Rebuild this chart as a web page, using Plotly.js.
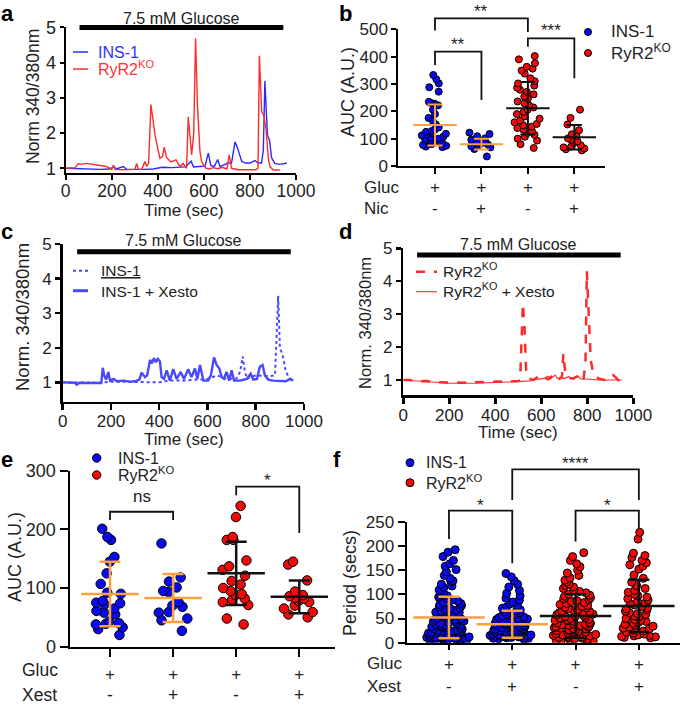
<!DOCTYPE html>
<html><head><meta charset="utf-8">
<script src="https://cdn.plot.ly/plotly-3.0.1.min.js"></script>
<style>html,body{margin:0;padding:0;background:#fff}#chart{width:685px;height:705px}</style>
</head><body><div id="chart"></div><script>
// ---------------- DATA ----------------
// Panel a: representative traces (time in sec, normalized 340/380)
const aTimeINS = [0, 50, 100, 150, 190, 210, 220, 250, 265, 300, 340, 380, 420, 460, 490, 520, 545, 555, 580, 605, 619, 630, 645, 660, 670, 690, 705, 720, 735, 745, 764, 780, 800, 822, 835, 850, 858, 865, 876, 885, 894, 908, 920, 940, 960];
const aValINS  = [1.0, 0.99, 0.97, 0.97, 0.98, 1.04, 0.98, 1.05, 0.97, 0.98, 0.97, 0.98, 1.03, 1.02, 1.04, 1.04, 1.2, 1.04, 1.05, 1.06, 1.43, 1.08, 1.05, 1.25, 1.05, 1.1, 1.15, 1.15, 1.75, 1.6, 1.2, 1.15, 1.15, 1.22, 1.15, 1.15, 1.5, 3.48, 1.94, 1.8, 1.3, 1.14, 1.12, 1.12, 1.15];
const aTimeKO = [0, 20, 40, 55, 70, 90, 110, 130, 150, 170, 190, 200, 207, 215, 240, 270, 300, 308, 316, 330, 344, 352, 360, 370, 388, 409, 420, 428, 438, 457, 479, 496, 510, 525, 532, 547, 556, 564, 572, 583, 590, 598, 610, 625, 640, 660, 680, 700, 710, 720, 735, 750, 770, 790, 810, 825, 835, 841, 851, 860, 870, 880, 887, 900, 915, 930];
const aValKO  = [1.0, 1.0, 1.02, 1.13, 1.12, 1.14, 1.12, 1.1, 1.1, 1.06, 1.01, 0.97, 1.09, 0.97, 0.96, 0.96, 0.97, 1.14, 0.97, 0.97, 1.19, 1.05, 1.15, 2.81, 1.94, 1.28, 1.33, 1.6, 1.3, 1.18, 1.24, 1.05, 1.14, 1.0, 2.46, 1.38, 2.0, 4.69, 2.8, 1.47, 1.2, 1.1, 1.0, 0.98, 1.02, 0.99, 1.03, 0.98, 1.38, 1.0, 0.97, 0.96, 0.96, 0.96, 0.95, 0.96, 1.0, 4.19, 2.6, 2.5, 2.1, 1.28, 1.05, 0.96, 0.95, 0.95];

// Panel b: AUC (A.U.) per cell
const bCategories = ['INS-1 Gluc', 'INS-1 Gluc+Nic', 'RyR2KO Gluc', 'RyR2KO Gluc+Nic'];
const bINS_Gluc = [333, 317, 302, 288, 272, 235, 231, 228, 222, 206, 190, 176, 165, 152, 141, 133, 128, 125, 121, 118, 115, 112, 108, 104, 100, 97, 94, 90, 87, 84, 80, 77, 74, 71, 69];
const bINS_Nic  = [122, 117, 109, 101, 96, 90, 86, 82, 79, 76, 72, 68, 62, 35];
const bKO_Gluc  = [402, 390, 376, 363, 356, 349, 338, 321, 310, 302, 294, 286, 279, 271, 262, 254, 246, 236, 229, 221, 214, 206, 198, 190, 181, 173, 166, 160, 154, 149, 144, 139, 133, 127, 121, 114, 107, 100, 93, 80, 66];
const bKO_Nic   = [206, 176, 152, 131, 116, 110, 101, 96, 90, 84, 76, 71, 68, 64, 61, 57];
const bMean = [150, 80, 211, 105];
const bSD   = [75, 20, 96, 45];
const bGluc = ['+', '+', '+', '+'];
const bNic  = ['-', '+', '-', '+'];

// Panel c: INS-1 control vs + Xesto
const cTimeCtrl = [0, 60, 150, 200, 300, 360, 400, 440, 500, 560, 600, 640, 680, 720, 735, 746, 755, 765, 776, 800, 830, 860, 880, 893, 900, 911, 925, 942, 956];
const cValCtrl  = [1.0, 1.0, 0.99, 1.02, 1.0, 1.0, 1.0, 1.05, 1.05, 1.08, 1.1, 1.2, 1.1, 1.1, 1.3, 1.75, 1.3, 1.1, 1.15, 1.2, 1.18, 1.18, 1.2, 3.5, 2.0, 1.8, 1.3, 1.1, 1.05];
const cTimeX = [0, 30, 50, 58, 70, 100, 130, 160, 166, 172, 180, 189, 196, 210, 225, 250, 280, 300, 318, 327, 341, 350, 362, 370, 378, 386, 394, 403, 410, 420, 431, 444, 458, 472, 489, 503, 520, 534, 548, 558, 569, 583, 603, 614, 627, 638, 649, 659, 668, 679, 690, 700, 710, 735, 763, 779, 790, 805, 817, 828, 838, 852, 872, 900, 925, 942, 955];
const cValX  = [1.0, 1.0, 0.99, 0.93, 0.99, 0.98, 0.97, 0.98, 1.42, 1.2, 1.08, 1.3, 1.05, 1.1, 1.03, 1.05, 1.02, 1.03, 1.08, 1.28, 1.15, 1.2, 1.65, 1.55, 1.7, 1.58, 1.68, 1.6, 1.15, 1.1, 1.35, 1.05, 1.38, 1.1, 1.3, 1.1, 1.38, 1.15, 1.4, 1.1, 1.5, 1.05, 1.05, 1.2, 1.72, 1.5, 1.4, 1.15, 1.1, 1.3, 1.05, 1.35, 1.05, 1.05, 1.1, 1.25, 1.08, 1.1, 1.45, 1.5, 1.2, 1.08, 1.05, 1.04, 1.03, 1.1, 1.05];

// Panel d: RyR2KO control vs + Xesto
const dTimeCtrl = [0, 30, 60, 100, 150, 200, 250, 300, 350, 400, 450, 500, 508, 515, 520, 527, 534, 544, 565, 580, 595, 609, 630, 652, 674, 690, 696, 703, 717, 739, 768, 783, 792, 798, 806, 815, 826, 848, 884, 913, 935, 949];
const dValCtrl  = [1.0, 1.0, 0.96, 0.97, 0.93, 0.92, 0.92, 0.93, 0.94, 0.95, 0.96, 0.97, 1.0, 2.5, 3.32, 2.6, 1.3, 1.05, 1.0, 1.05, 1.0, 1.1, 1.02, 1.15, 1.0, 1.1, 1.8, 1.3, 1.05, 1.05, 1.15, 1.0, 1.5, 4.3, 3.0, 1.6, 1.2, 1.05, 0.98, 1.15, 1.0, 1.15];
const dTimeX = [0, 50, 100, 150, 200, 300, 400, 500, 560, 580, 590, 610, 630, 640, 660, 670, 700, 720, 740, 760, 770, 800, 850, 900, 950];
const dValX  = [1.0, 0.98, 0.95, 0.92, 0.9, 0.9, 0.92, 0.95, 0.98, 1.1, 1.02, 1.05, 1.12, 1.03, 1.15, 1.05, 1.05, 1.1, 1.02, 1.12, 1.03, 1.03, 1.0, 0.99, 1.0];

// Panel e: AUC (A.U.) with Xestospongin
const eINS_Gluc = [201, 187, 182, 153, 145, 125, 107, 92, 90, 78, 75, 74, 72, 65, 61, 58, 55, 43, 40, 39, 38, 33, 30, 20];
const eINS_Xest = [176, 118, 111, 101, 95, 93, 76, 70, 68, 59, 58, 48, 45, 27];
const eKO_Gluc  = [240, 221, 187, 182, 182, 147, 137, 131, 121, 112, 106, 100, 95, 90, 88, 82, 80, 76, 71, 48, 38];
const eKO_Xest  = [145, 140, 113, 94, 88, 86, 83, 82, 78, 76, 70, 65, 59, 55, 50];
const eMean = [90, 83, 125, 85];
const eSD   = [55, 41, 54, 28];
const eGluc = ['+', '+', '+', '+'];
const eXest = ['-', '+', '-', '+'];

// Panel f: Period (secs)
const fINS_Gluc = [192, 187, 178, 170, 163, 158, 151, 146, 139, 133, 128, 126, 121, 117, 114, 109, 106, 103, 99, 97, 94, 91, 88, 86, 83, 81, 79, 77, 74, 72, 71, 69, 67, 65, 63, 62, 60, 58, 57, 55, 54, 52, 51, 49, 48, 47, 45, 44, 43, 41, 40, 39, 38, 36, 35, 34, 33, 32, 31, 30, 29, 28, 27, 26, 25, 24, 24, 23, 22, 21, 20, 20, 19, 18, 18, 17, 16, 16, 15, 14, 14, 13, 13, 12, 12, 11, 11, 10, 10, 9, 9, 8, 8, 7, 7, 6, 6, 5, 5, 4];
const fINS_Xest = [143, 136, 128, 121, 115, 108, 102, 97, 92, 88, 84, 80, 77, 74, 71, 68, 66, 64, 62, 60, 58, 56, 55, 53, 52, 50, 49, 48, 47, 46, 45, 44, 43, 42, 41, 40, 39, 38, 37, 36, 35, 34, 33, 32, 31, 30, 30, 29, 28, 27, 26, 25, 25, 24, 23, 22, 22, 21, 20, 20, 19, 18, 18, 17, 16, 16, 15, 15, 14, 13, 13, 12, 12, 11, 10, 10, 9, 9, 8, 7];
const fKO_Gluc  = [186, 178, 170, 163, 157, 150, 144, 139, 134, 129, 125, 121, 118, 115, 112, 109, 106, 103, 100, 98, 96, 93, 91, 89, 87, 85, 83, 81, 79, 77, 75, 73, 72, 70, 68, 67, 65, 64, 62, 61, 59, 58, 56, 55, 54, 52, 51, 50, 48, 47, 46, 45, 44, 42, 41, 40, 39, 38, 37, 36, 35, 34, 33, 32, 31, 30, 29, 28, 27, 26, 25, 24, 23, 22, 21, 20, 19, 18, 17, 16, 15, 14, 13, 12, 11, 10, 9, 8, 7, 6, 5, 4, 3, 2];
const fKO_Xest  = [228, 214, 185, 180, 176, 170, 165, 161, 158, 152, 140, 133, 125, 118, 112, 108, 104, 100, 97, 94, 91, 88, 85, 82, 80, 78, 75, 72, 70, 68, 65, 62, 60, 58, 55, 53, 50, 48, 46, 44, 42, 40, 38, 36, 34, 32, 30, 28, 26, 24, 22, 20, 18, 16, 15, 14, 13, 12, 11, 10];
const fMean = [52, 38, 55, 76];
const fSD   = [43, 28, 45, 54];
const fGluc = ['+', '+', '+', '+'];
const fXest = ['-', '+', '-', '+'];

const axTicks1000 = [0, 200, 400, 600, 800, 1000];
const glucoseWindow = [60, 945];

// ---------------- STYLE / GEOMETRY ----------------
const W = 685, H = 705;
const FONT = 'Arial, "Liberation Sans", Helvetica, sans-serif';
const TXT = '#222';
const BLUE = '#0a0af0', RED = '#f00a0a', ORANGE = '#f9a03f';
const geo = {
  a: {x: [65.7, 296], y: [173, 27.3], xr: [0, 1000], yr: [0.867, 5]},
  b: {x: [398.3, 605], y: [166, 29.3], xr: [-0.79, 3.66], yr: [0, 500]},
  c: {x: [62.7, 304], y: [401.7, 244], xr: [0, 1000], yr: [0.44, 5]},
  d: {x: [403.3, 633.3], y: [395, 248.3], xr: [0, 1000], yr: [0.545, 5]},
  e: {x: [70, 335], y: [646.7, 470.7], xr: [-0.634, 3.566], yr: [0, 300]},
  f: {x: [407, 680], y: [642.7, 521.7], xr: [-0.663, 3.65], yr: [0, 250]}
};
const fx = p => p / W, fy = p => 1 - p / H;
function PX(p, v) { const G = geo[p]; return fx(G.x[0] + (v - G.xr[0]) / (G.xr[1] - G.xr[0]) * (G.x[1] - G.x[0])); }
function PY(p, v) { const G = geo[p]; return fy(G.y[0] + (v - G.yr[0]) / (G.yr[1] - G.yr[0]) * (G.y[1] - G.y[0])); }

const annotations = [], shapes = [];
function note(xp, yp, text, size, o) {
  o = o || {};
  annotations.push({xref: 'paper', yref: 'paper', x: xp, y: yp, text: text, showarrow: false,
    xanchor: o.xanchor || 'center', yanchor: o.yanchor || 'middle', textangle: o.angle || 0, borderpad: 0,
    font: {family: FONT, size: size, color: o.color || TXT}});
}
function notePx(x, y, text, size, o) { note(fx(x), fy(y), text, size, o); }

const layout = {width: W, height: H, margin: {l: 0, r: 0, t: 0, b: 0}, paper_bgcolor: '#fff', plot_bgcolor: 'rgba(0,0,0,0)',
  showlegend: false, hovermode: false, annotations: annotations, shapes: shapes};
const AX = {showline: true, linecolor: '#000', linewidth: 2, ticks: 'outside', tickcolor: '#000', tickwidth: 2, ticklen: 5,
  showgrid: false, zeroline: false, fixedrange: true, tickmode: 'array'};
function mkAxes(p, idx, xo, yo) {
  const G = geo[p], s = idx === 1 ? '' : String(idx);
  layout['xaxis' + s] = Object.assign({}, AX, {domain: [fx(G.x[0]), fx(G.x[1])], range: G.xr, anchor: 'y' + s}, xo);
  layout['yaxis' + s] = Object.assign({}, AX, {domain: [fy(G.y[0]), fy(G.y[1])], range: G.yr, anchor: 'x' + s}, yo);
}
const tf = s => ({family: FONT, size: s, color: TXT});
const catVals = [0, 1, 2, 3];
mkAxes('a', 1, {tickvals: axTicks1000, tickfont: tf(17.5), ticklabelstandoff: -4}, {tickvals: [1, 2, 3, 4, 5], ticklen: 4, tickfont: tf(18)});
mkAxes('b', 2, {tickvals: catVals, ticktext: bGluc, tickfont: tf(17), ticklen: 6, ticklabelstandoff: -1}, {tickvals: [0, 100, 200, 300, 400, 500], tickfont: tf(17)});
mkAxes('c', 3, {tickvals: axTicks1000, tickfont: tf(17), linewidth: 2.5, tickwidth: 2.5, ticklen: 6, ticklabelstandoff: -4}, {tickvals: [1, 2, 3, 4, 5], tickfont: tf(17), linewidth: 2.5, tickwidth: 2.5, ticklen: 5});
mkAxes('d', 4, {tickvals: axTicks1000, tickfont: tf(17), linewidth: 2.5, tickwidth: 2.5, ticklen: 6, ticklabelstandoff: -3}, {tickvals: [1, 2, 3, 4, 5], tickfont: tf(17), linewidth: 2.5, tickwidth: 2.5, ticklen: 5});
mkAxes('e', 5, {tickvals: catVals, ticktext: eGluc, tickfont: tf(17), ticklen: 8, linewidth: 2.5, ticklabelstandoff: 2}, {tickvals: [0, 100, 200, 300], ticklen: 8, tickfont: tf(18), linewidth: 2.5});
mkAxes('f', 6, {tickvals: catVals, ticktext: fGluc, tickfont: tf(17), ticklen: 5, linewidth: 2.5, ticklabelstandoff: -1}, {tickvals: [0, 50, 100, 150, 200, 250], ticklen: 7, tickfont: tf(17), linewidth: 2.5});

// ---------------- TRACES ----------------
const traces = [];
function line(x, y, ax, color, width, dash) {
  traces.push({type: 'scatter', mode: 'lines', x: x, y: y, xaxis: 'x' + ax, yaxis: 'y' + ax,
    line: {color: color, width: width, dash: dash || 'solid'}, hoverinfo: 'skip'});
}
line(aTimeINS, aValINS, '', '#2a2aff', 1.4);
line(aTimeKO, aValKO, '', '#ff2a2a', 1.4);
line(cTimeCtrl, cValCtrl, '3', '#4848ff', 2, 'dot');
line(cTimeX, cValX, '3', '#4848ff', 2.4);
line(dTimeX, dValX, '4', '#ff2a2a', 1.1);
line(dTimeCtrl, dValCtrl, '4', '#ff2a2a', 2.5, 'dash');

function strip(vals, pos, ax, color, size, width) {
  traces.push({type: 'box', y: vals, x0: pos, xaxis: 'x' + ax, yaxis: 'y' + ax, boxpoints: 'all', jitter: 1, pointpos: 0,
    width: width, fillcolor: 'rgba(0,0,0,0)', line: {width: 0, color: 'rgba(0,0,0,0)'},
    marker: {color: color, size: size, opacity: 1, line: {color: '#000', width: 1}}, hoverinfo: 'skip'});
}
function meanSD(means, sds, ax, colors, len, cap, th) {
  means.forEach((m, i) => {
    traces.push({type: 'scatter', mode: 'markers', x: [i], y: [m], xaxis: 'x' + ax, yaxis: 'y' + ax, cliponaxis: false,
      marker: {symbol: 'line-ew', size: len, color: colors[i], line: {color: colors[i], width: th}},
      error_y: {type: 'data', array: [sds[i]], visible: true, color: colors[i], thickness: th, width: cap}, hoverinfo: 'skip'});
  });
}
const meanColors = [ORANGE, ORANGE, '#111', '#111'];
[bINS_Gluc, bINS_Nic, bKO_Gluc, bKO_Nic].forEach((v, i) => strip(v, i, '2', i < 2 ? BLUE : RED, 7, 0.62));
meanSD(bMean, bSD, '2', meanColors, 31, 7.5, 2);
[eINS_Gluc, eINS_Xest, eKO_Gluc, eKO_Xest].forEach((v, i) => strip(v, i, '5', i < 2 ? BLUE : RED, 9.5, 0.6));
meanSD(eMean, eSD, '5', meanColors, 41, 10.5, 2.5);
[fINS_Gluc, fINS_Xest, fKO_Gluc, fKO_Xest].forEach((v, i) => strip(v, i, '6', i < 2 ? BLUE : RED, 8, 0.72));
meanSD(fMean, fSD, '6', meanColors, 51, 10.5, 2.5);

// ---------------- ANNOTATIONS / DECORATIONS ----------------
// panel letters
[['a', 7, 0], ['b', 345, 0], ['c', 7, 218], ['d', 345, 218], ['e', 7, 446], ['f', 337, 446]].forEach(l =>
  notePx(l[1], l[2], '<b>' + l[0] + '</b>', 22, {color: '#000', yanchor: 'top'}));

// glucose bars
function glucose(p, textY, barY) {
  const x0 = PX(p, glucoseWindow[0]), x1 = PX(p, glucoseWindow[1]);
  shapes.push({type: 'line', xref: 'paper', yref: 'paper', x0: x0, x1: x1, y0: fy(barY), y1: fy(barY), line: {color: '#000', width: 5}});
  note((x0 + x1) / 2, fy(textY), '7.5 mM Glucose', 16);
}
glucose('a', 18, 27.5); glucose('c', 240, 251.7); glucose('d', 245, 255);

// axis titles
notePx(33, 97, 'Norm 340/380nm', 17.5, {angle: -90});
notePx(184, 210, 'Time (sec)', 17);
notePx(348, 92, 'AUC (A.U.)', 18, {angle: -90});
notePx(22, 317, 'Norm. 340/380nm', 18.5, {angle: -90});
notePx(184, 439, 'Time (sec)', 17);
notePx(365, 323, 'Norm. 340/380nm', 16.5, {angle: -90});
notePx(518, 432, 'Time (sec)', 17);
notePx(15, 557, 'AUC (A.U.)', 18, {angle: -90});
notePx(350, 583, 'Period (secs)', 18, {angle: -90});

// legends
function legLine(x0, x1, y, color, width, dash) {
  shapes.push({type: 'line', xref: 'paper', yref: 'paper', x0: fx(x0), x1: fx(x1), y0: fy(y), y1: fy(y), line: {color: color, width: width, dash: dash || 'solid'}});
}
function legDot(cx, cy, r, color) {
  shapes.push({type: 'circle', xref: 'paper', yref: 'paper', x0: fx(cx - r), x1: fx(cx + r), y0: fy(cy + r), y1: fy(cy - r), fillcolor: color, line: {color: '#000', width: 1}});
}
legLine(73, 88, 52, '#2a2aff', 1.5); notePx(97, 52, 'INS-1', 16, {xanchor: 'left', color: '#3030ff'});
legLine(73, 88, 69, '#ff2a2a', 1.5); notePx(97, 68, 'RyR2<sup>KO</sup>', 16, {xanchor: 'left', color: '#ff3535'});
legLine(73, 90, 270.7, '#4848ff', 2, 'dot'); notePx(100, 270, '<u>INS-1</u>', 15.5, {xanchor: 'left'});
legLine(73, 88, 290.7, '#4848ff', 3); notePx(100, 291, 'INS-1 + Xesto', 15.5, {xanchor: 'left'});
legLine(416, 437, 271.7, '#ff2a2a', 2.5, 'dash'); notePx(441.7, 270, 'RyR2<sup>KO</sup>', 15.5, {xanchor: 'left'});
legLine(416, 437, 291.7, '#ff2a2a', 1.1); notePx(441.7, 290, 'RyR2<sup>KO</sup> + Xesto', 15.5, {xanchor: 'left'});
legDot(588, 32, 3.5, BLUE); notePx(610, 32, 'INS-1', 17, {xanchor: 'left'});
legDot(588, 53, 3.5, RED); notePx(610, 52, 'RyR2<sup>KO</sup>', 17, {xanchor: 'left'});
legDot(96.7, 458, 4.2, BLUE); notePx(116.7, 458, 'INS-1', 16, {xanchor: 'left'});
legDot(96.7, 475, 4.2, RED); notePx(116.7, 474, 'RyR2<sup>KO</sup>', 16, {xanchor: 'left'});
legDot(410, 462.7, 4, BLUE); notePx(425, 462.7, 'INS-1', 16, {xanchor: 'left'});
legDot(410, 482.7, 4, RED); notePx(425, 481.5, 'RyR2<sup>KO</sup>', 16, {xanchor: 'left'});

// treatment rows (first row = x tick labels; second row drawn here)
function rows(p, labels2, ys, rowNames, nameX, size) {
  rowNames.forEach((nm, r) => notePx(nameX, ys[r], nm, size, {xanchor: 'left'}));
  labels2.forEach((s, i) => note(PX(p, i), fy(ys[1]), s, size));
}
rows('b', bNic, [187, 208], ['Gluc', 'Nic'], 363, 17);
rows('e', eXest, [670, 695], ['Gluc', 'Xest'], 21, 17.5);
rows('f', fXest, [663, 686], ['Gluc', 'Xest'], 366, 17);

// significance brackets: [cat0, cat1, leftLegBottom, top, rightLegBottom, label, labelY] in data units
const bBrackets = [[0, 2, 496, 540, 490, '**', 565], [0, 1, 369, 418, 241, '**', 443], [2, 3, 436, 467, 321, '***', 494]];
const eBrackets = [[0, 1, 216, 230, 216, 'ns', 256], [2, 3, 258, 273, 194, '*', 284]];
const fBrackets = [[0, 1, 214, 273, 164, '*', 284], [1, 3, 295, 358, 295, '****', 371], [2, 3, 209, 273, 236, '*', 284]];
function bracket(p, s, size) {
  const x0 = PX(p, s[0]), x1 = PX(p, s[1]);
  shapes.push({type: 'path', xref: 'paper', yref: 'paper', line: {color: '#111', width: 1.8},
    path: 'M' + x0 + ',' + PY(p, s[2]) + 'L' + x0 + ',' + PY(p, s[3]) + 'L' + x1 + ',' + PY(p, s[3]) + 'L' + x1 + ',' + PY(p, s[4])});
  note((x0 + x1) / 2, PY(p, s[6]), s[5], size);
}
bBrackets.forEach(s => bracket('b', s, 17));
eBrackets.forEach(s => bracket('e', s, 17));
fBrackets.forEach(s => bracket('f', s, 17));

Plotly.newPlot('chart', traces, layout, {staticPlot: true, displayModeBar: false});
</script></body></html>
